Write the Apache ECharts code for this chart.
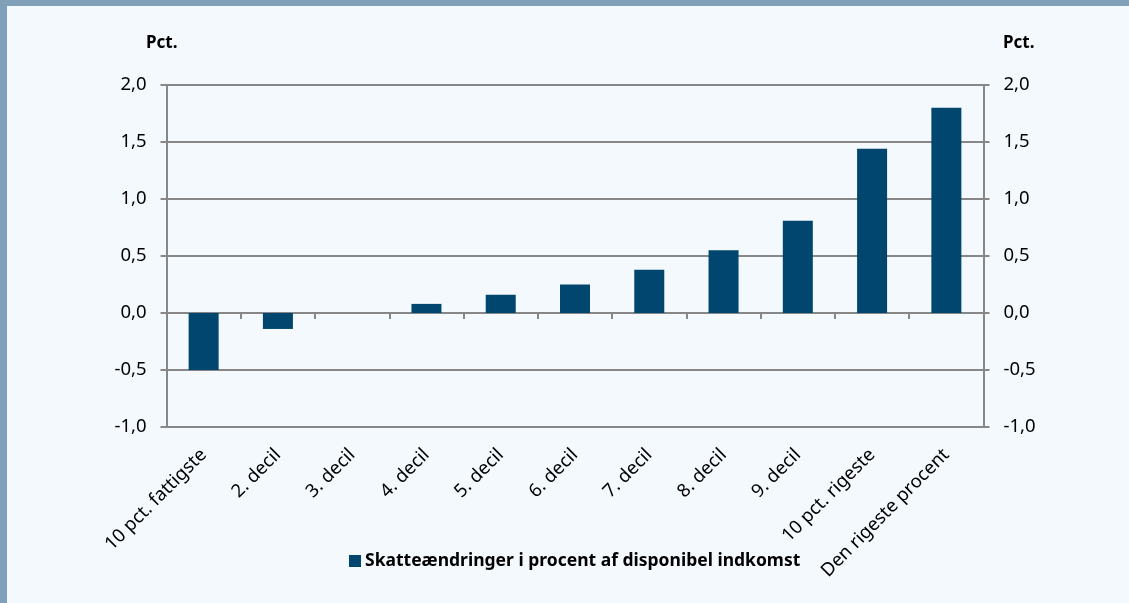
<!DOCTYPE html>
<html>
<head>
<meta charset="utf-8">
<script src="https://cdn.jsdelivr.net/npm/echarts@6/dist/echarts.min.js"></script>
<style>
html,body{margin:0;padding:0;background:#f4f9fe;}
#c{width:1129px;height:603px;}
</style>
</head>
<body>
<div id="c"></div>
<script>
var categories = ["10 pct. fattigste","2. decil","3. decil","4. decil","5. decil","6. decil","7. decil","8. decil","9. decil","10 pct. rigeste","Den rigeste procent"];
var values = [-0.5, -0.14, 0, 0.08, 0.16, 0.25, 0.38, 0.55, 0.81, 1.44, 1.8];
var seriesName = "Skatteændringer i procent af disponibel indkomst";
var yTicks = {min: -1, max: 2, interval: 0.5};

var FONT = "'Noto Sans', 'Open Sans', sans-serif";
var GREY = '#878787';
var chart = echarts.init(document.getElementById('c'));
function fmt(v){ return v.toFixed(1).replace('.', ','); }
var yBase = {
  type: 'value', min: yTicks.min, max: yTicks.max, interval: yTicks.interval,
  axisLine: {show: true, lineStyle: {color: GREY, width: 2}},
  axisTick: {show: true, length: 6, lineStyle: {color: GREY, width: 2}},
  axisLabel: {formatter: fmt, color: '#000', fontSize: 18.5, fontFamily: FONT, margin: 20}
};
chart.setOption({
  backgroundColor: '#f4f9fe',
  animation: false,
  grid: {left: 166.5, right: 145.5, top: 85, bottom: 176},
  graphic: [
    {type: 'rect', shape: {x: 0, y: 0, width: 1129, height: 6}, style: {fill: '#7fa0b8'}},
    {type: 'rect', shape: {x: 0, y: 0, width: 7, height: 603}, style: {fill: '#7fa0b8'}},
    {type: 'text', left: 146, top: 35, style: {text: 'Pct.', font: 'bold 17px ' + FONT, fill: '#000'}},
    {type: 'text', left: 1003, top: 35, style: {text: 'Pct.', font: 'bold 17px ' + FONT, fill: '#000'}}
  ],
  legend: {
    left: 344, top: 547, itemWidth: 12, itemHeight: 12, itemGap: 5,
    icon: 'rect',
    itemStyle: {borderWidth: 0},
    textStyle: {fontSize: 17.5, fontWeight: 'bold', fontFamily: FONT, color: '#000', padding: [0,0,0,-1]},
    data: [seriesName]
  },
  xAxis: [
    {
      type: 'category', data: categories, position: 'bottom',
      axisLine: {onZero: true, lineStyle: {color: GREY, width: 2}},
      axisTick: {show: true, length: 6, interval: 0, alignWithLabel: false, lineStyle: {color: GREY, width: 2}},
      axisLabel: {show: false}
    },
    {
      type: 'category', data: categories, position: 'bottom',
      axisLine: {show: false, onZero: false},
      axisTick: {show: false},
      axisLabel: {interval: 0, rotate: 45, margin: 25, color: '#000', fontSize: 18.5, fontFamily: FONT}
    }
  ],
  yAxis: [
    Object.assign({}, yBase, {position: 'left', splitLine: {show: true, lineStyle: {color: GREY, width: 2}}}),
    Object.assign({}, yBase, {position: 'right', splitLine: {show: false}})
  ],
  series: [{
    name: seriesName, type: 'bar', xAxisIndex: 0, yAxisIndex: 0,
    data: values, barWidth: 30,
    itemStyle: {color: '#00466e', borderWidth: 0}
  }]
});
</script>
</body>
</html>
